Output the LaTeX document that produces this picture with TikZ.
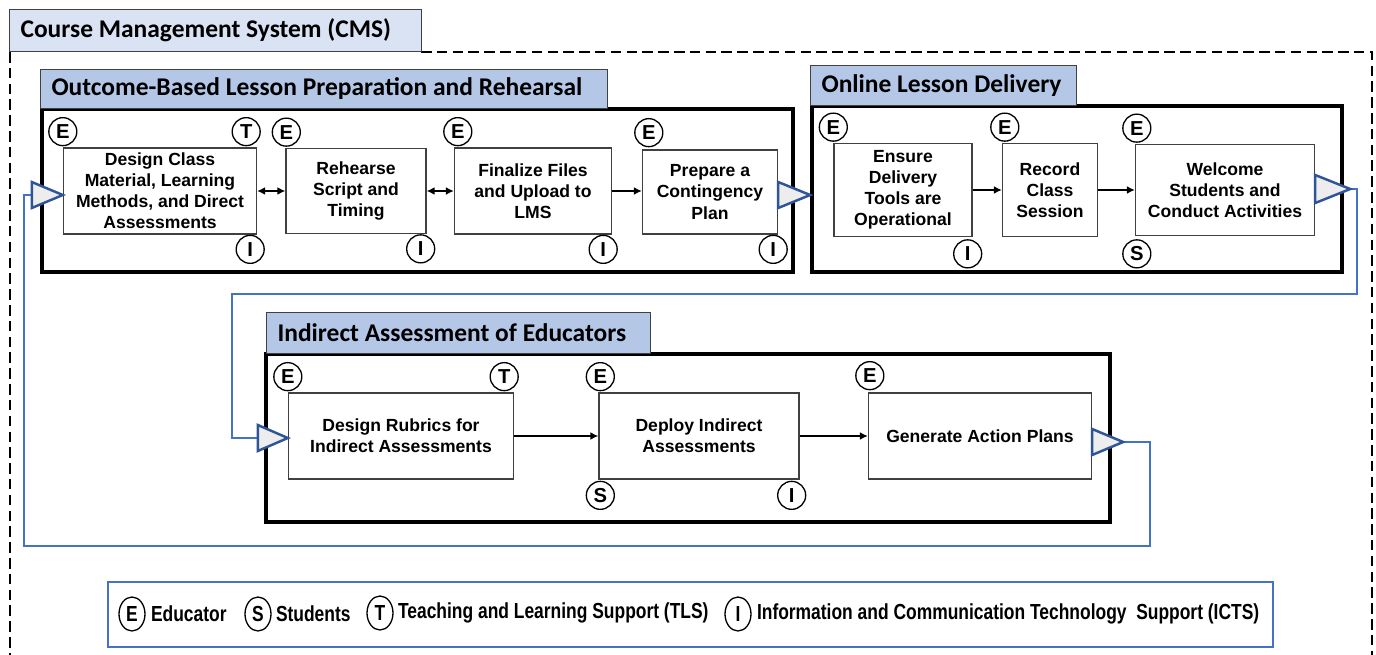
\documentclass[tikz,border=0pt]{standalone}
\usepackage{fontspec}
\setmainfont{Liberation Sans}
\newfontfamily\headfont{Carlito}
\newfontfamily\narrowfont[FakeStretch=0.8]{Liberation Sans}
\usetikzlibrary{positioning,calc,shapes.geometric,arrows.meta}

\definecolor{tabLight}{HTML}{DAE3F3}
\definecolor{tabMid}{HTML}{B4C7E7}
\definecolor{portBlue}{HTML}{2F5597}
\definecolor{loopBlue}{HTML}{4472C4}
\definecolor{portFill}{HTML}{EDEDED}
\definecolor{edgeGray}{HTML}{404040}

\tikzset{
  task/.style={draw=edgeGray, line width=0.8pt, fill=white, align=center, inner sep=0pt,
    font=\bfseries\fontsize{10}{12}\selectfont},
  badge/.style={circle, draw=black, line width=0.75pt, fill=white, minimum size=0.56cm,
    inner sep=0pt, font=\bfseries\fontsize{11.5}{12}\selectfont},
  keybadge/.style={ellipse, draw=black, line width=0.75pt, fill=white, minimum width=0.52cm,
    minimum height=0.68cm, inner sep=0pt, font=\narrowfont\bfseries\fontsize{12.4}{14}\selectfont},
  keytext/.style={inner sep=0pt, font=\narrowfont\bfseries\fontsize{12.4}{14}\selectfont},
  tab/.style={draw=edgeGray, line width=0.6pt, anchor=south west, inner xsep=0.22cm,
    font=\headfont\bfseries\fontsize{14.5}{17}\selectfont},
  frame/.style={line width=2.8pt, draw=black},
  flow/.style={line width=1.1pt, -{Latex[length=4.5pt,width=4.5pt]}},
  flowboth/.style={line width=1.1pt, {Latex[length=4.5pt,width=4.5pt]}-{Latex[length=4.5pt,width=4.5pt]}},
  port/.style={draw=portBlue, fill=portFill, line width=1.4pt, line join=miter},
  feedback/.style={draw=loopBlue, line width=1.2pt}
}

\begin{document}
\begin{tikzpicture}[x=0.02cm, y=-0.02cm]
 \useasboundingbox (0,0) rectangle (1376,655);

 %CMS frame
 \draw[line width=1.1pt, dash pattern=on 6pt off 3pt] (421,52) -- (1372,52) -- (1372,655);
 \draw[line width=1.1pt, dash pattern=on 6pt off 3pt] (10,52) -- (10,655);
 \node (cmsTab) [tab, fill=tabLight, minimum width=8.24cm, minimum height=0.84cm] at (9,52) {\makebox[7.8cm][l]{Course Management System (CMS)}};

 %Group frames
 \draw[frame] (42,109) rectangle (793,272);
 \draw[frame] (812,106) rectangle (1342,272);
 \draw[frame] (266,354) rectangle (1110,522);

 \node (prepTab) [tab, fill=tabMid, minimum width=11.34cm, minimum height=0.78cm] at (40,109) {\makebox[10.9cm][l]{Outcome-Based Lesson Preparation and Rehearsal}};
 \node (deliveryTab) [tab, fill=tabMid, minimum width=5.32cm, minimum height=0.8cm] at (810,106) {\makebox[4.88cm][l]{Online Lesson Delivery}};
 \node (assessTab) [tab, fill=tabMid, minimum width=7.68cm, minimum height=0.82cm] at (266,354) {\makebox[7.24cm][l]{Indirect Assessment of Educators}};

 %Tasks
 \node (designMaterial) [task, minimum width=3.86cm, minimum height=1.72cm] at (160,191) {Design Class\\Material, Learning\\Methods, and Direct\\Assessments};
 \node (rehearseScript) [task, minimum width=2.8cm, minimum height=1.7cm] at (356,191) {Rehearse\\Script and\\Timing};
 \node (finalizeFiles) [task, minimum width=3.14cm, minimum height=1.72cm] at (533,191) {Finalize Files\\and Upload to\\LMS};
 \node (contingencyPlan) [task, minimum width=2.7cm, minimum height=1.68cm] at (710,192) {Prepare a\\Contingency\\Plan};

 \node (ensureTools) [task, minimum width=2.76cm, minimum height=1.86cm] at (903,190) {Ensure\\Delivery\\Tools are\\Operational};
 \node (recordSession) [task, minimum width=1.9cm, minimum height=1.86cm] at (1050,190) {Record\\Class\\Session};
 \node (welcomeStudents) [task, minimum width=3.58cm, minimum height=1.82cm] at (1225,190) {Welcome\\Students and\\Conduct Activities};

 \node (designRubrics) [task, minimum width=4.5cm, minimum height=1.72cm] at (401,436) {Design Rubrics for\\Indirect Assessments};
 \node (deployAssessments) [task, minimum width=4.0cm, minimum height=1.72cm] at (699,436) {Deploy Indirect\\Assessments};
 \node (actionPlans) [task, minimum width=4.46cm, minimum height=1.72cm] at (980,436) {Generate Action Plans};

 %Roles
 \node (designMaterialE) [badge, above=0.02cm of designMaterial.north west] {E};
 \node (designMaterialT) [badge, above=0.02cm of designMaterial.north east, xshift=-0.22cm] {T};
 \node (designMaterialI) [badge, below=0cm of designMaterial.south east, xshift=-0.14cm] {I};
 \node (rehearseScriptE) [badge, above=0.02cm of rehearseScript.north west, xshift=0.02cm] {E};
 \node (rehearseScriptI) [badge, below=0cm of rehearseScript.south east, xshift=-0.12cm] {I};
 \node (finalizeFilesE) [badge, above=0.02cm of finalizeFiles.north west, xshift=0.08cm] {E};
 \node (finalizeFilesI) [badge, below=0cm of finalizeFiles.south east, xshift=-0.18cm] {I};
 \node (contingencyPlanE) [badge, above=0.04cm of contingencyPlan.north west, xshift=0.14cm] {E};
 \node (contingencyPlanI) [badge, below=0cm of contingencyPlan.south east, xshift=-0.1cm] {I};

 \node (ensureToolsE) [badge, above=0.02cm of ensureTools.north west] {E};
 \node (ensureToolsI) [badge, below=0.04cm of ensureTools.south east, xshift=-0.1cm] {I};
 \node (recordSessionE) [badge, above=0.02cm of recordSession.north west, xshift=0.06cm] {E};
 \node (welcomeStudentsE) [badge, above=0.02cm of welcomeStudents.north west, xshift=0.04cm] {E};
 \node (welcomeStudentsS) [badge, below=0.06cm of welcomeStudents.south west, xshift=0.04cm] {S};

 \node (designRubricsE) [badge, above=0.02cm of designRubrics.north west] {E};
 \node (designRubricsT) [badge, above=0.02cm of designRubrics.north east, xshift=-0.2cm] {T};
 \node (deployAssessmentsE) [badge, above=0.02cm of deployAssessments.north west, xshift=0.04cm] {E};
 \node (deployAssessmentsS) [badge, below=0.02cm of deployAssessments.south west, xshift=0.04cm] {S};
 \node (deployAssessmentsI) [badge, below=0.02cm of deployAssessments.south east, xshift=-0.16cm] {I};
 \node (actionPlansE) [badge, above=0.04cm of actionPlans.north west, xshift=0.04cm] {E};

 %Flows
 \draw[flowboth] (designMaterial) -- (rehearseScript);
 \draw[flowboth] (rehearseScript) -- (finalizeFiles);
 \draw[flow] (finalizeFiles.east) -- (finalizeFiles.east -| contingencyPlan.west);
 \draw[flow] (ensureTools) -- (recordSession);
 \draw[flow] (recordSession) -- (welcomeStudents);
 \draw[flow] (designRubrics) -- (deployAssessments);
 \draw[flow] (deployAssessments) -- (actionPlans);

 %Coordinates
 \coordinate (materialIncoordinate) at ($(designMaterial.west)+(-31,4)$);
 \coordinate (welcomeOutcoordinate) at ($(welcomeStudents.east)+(35,-1)$);
 \coordinate (rubricsIncoordinate) at ($(designRubrics.west)+(-30,2)$);
 \coordinate (actionOutcoordinate) at ($(actionPlans.east)+(31,6)$);

 %Feedback lines
 \draw[feedback] (welcomeOutcoordinate) -| (1357,294) -| (232,438) -- (rubricsIncoordinate);
 \draw[feedback] (actionOutcoordinate) -| (1150,546) -| (24,195) -- (materialIncoordinate);

 %Ports
 \draw[port] ($(designMaterial.west)+(0,4)$) -- ++(-31,-13) -- ++(0,26) -- cycle;
 \draw[port] ($(contingencyPlan.east)+(0,3)$) -- ++(0,-13) -- ++(32,13) -- ++(-32,13) -- cycle;
 \draw[port] ($(welcomeStudents.east)+(0,-1)$) -- ++(0,-14) -- ++(35,14) -- ++(-35,14) -- cycle;
 \draw[port] ($(designRubrics.west)+(0,2)$) -- ++(-30,-13) -- ++(0,26) -- cycle;
 \draw[port] ($(actionPlans.east)+(0,6)$) -- ++(0,-13) -- ++(31,13) -- ++(-31,13) -- cycle;

 %Legend
 \draw[draw=loopBlue, line width=0.9pt] (108,582) rectangle (1273,647);
 \node (keyE) [keybadge] at (132,614) {E};
 \node (keyEtext) [keytext, right=0.1cm of keyE] {Educator};
 \node (keyS) [keybadge] at (258,614) {S};
 \node (keyStext) [keytext, right=0.08cm of keyS] {Students};
 \node (keyT) [keybadge] at (380,613) {T};
 \node (keyTtext) [keytext, right=0.08cm of keyT] {Teaching and Learning Support (TLS)};
 \node (keyI) [keybadge] at (738,614) {I};
 \node (keyItext) [keytext, right=0.1cm of keyI] {Information and Communication Technology\ \ Support (ICTS)};
\end{tikzpicture}
\end{document}
